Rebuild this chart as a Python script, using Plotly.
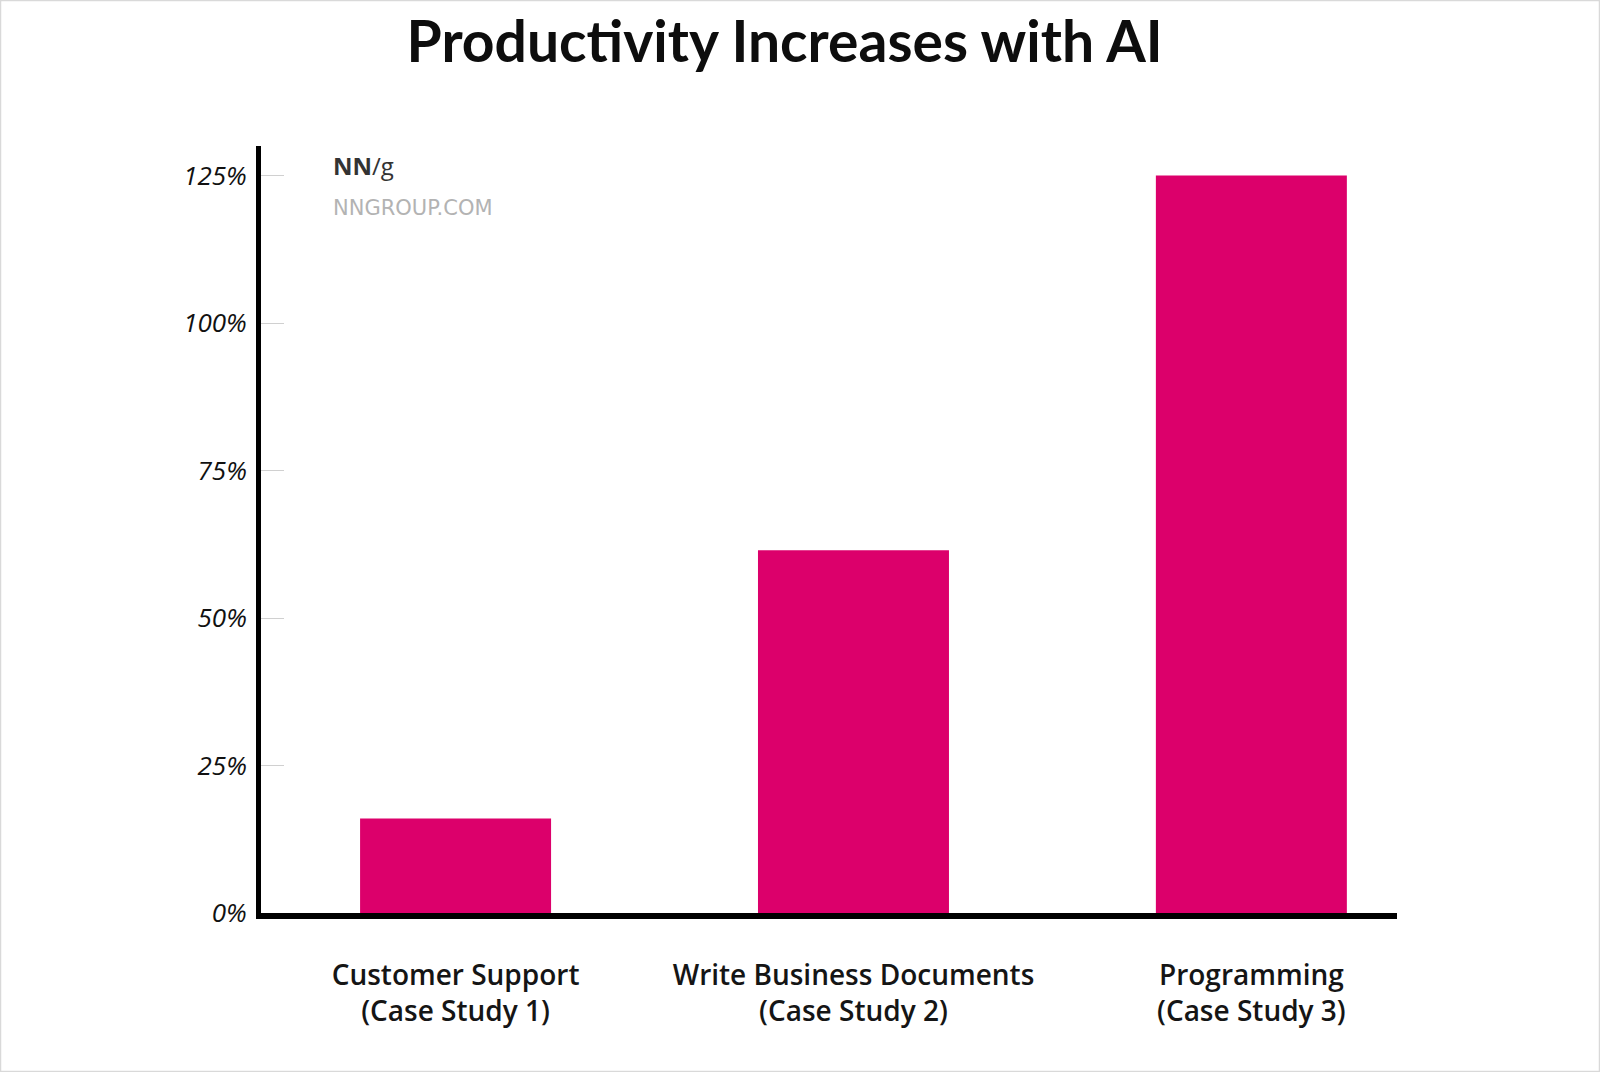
import plotly.graph_objects as go

# ---- data ----
categories = ["Customer Support<br>(Case Study 1)",
              "Write Business Documents<br>(Case Study 2)",
              "Programming<br>(Case Study 3)"]
productivity_gain = [16, 61.5, 125]
y_ticks = [0, 25, 50, 75, 100, 125]
y_tick_labels = ["0%", "25%", "50%", "75%", "100%", "125%"]
title_text = "Productivity Increases with AI"

W, H = 1600, 1072
L, R, T, B = 261, 203, 146, 159
pw, ph = W - L - R, H - T - B

BAR_COLOR = "#DC006B"
LABEL_FONT = "Open Sans, Lato, Roboto, sans-serif"

fig = go.Figure()
fig.add_trace(go.Bar(
    x=categories, y=productivity_gain,
    marker=dict(color=BAR_COLOR, line=dict(width=0)),
    width=0.48, hoverinfo="skip",
))

fig.update_layout(
    width=W, height=H, autosize=False,
    margin=dict(l=L, r=R, t=T, b=B, pad=0),
    paper_bgcolor="white", plot_bgcolor="white",
    showlegend=False,
    title=dict(text=f"<b>{title_text}</b>", x=784.6 / W, xanchor="center",
               y=1 - 42 / H, yanchor="middle",
               font=dict(family="Lato, Roboto, sans-serif",
                         size=57, color="#0d0d0d")),
    xaxis=dict(
        range=[-0.489, 2.366], showgrid=False, zeroline=False,
        showline=True, linecolor="black", linewidth=6,
        ticks="", ticklabelstandoff=32,
        tickfont=dict(family=LABEL_FONT, size=28, color="#151515", weight=600),
        fixedrange=True,
    ),
    yaxis=dict(
        range=[0, 130], showgrid=False, zeroline=False,
        showline=True, linecolor="black", linewidth=5,
        tickmode="array", tickvals=y_ticks, ticktext=y_tick_labels,
        ticks="inside", ticklen=23, tickwidth=1, tickcolor="#d0d0d0",
        ticklabelstandoff=4,
        tickfont=dict(family=LABEL_FONT, size=26, color="#111111", style="italic"),
        fixedrange=True,
    ),
)

# logo text
fig.add_annotation(xref="paper", yref="paper",
                   x=(331 - L) / pw, y=(H - B - 166) / ph,
                   xanchor="left", yanchor="middle", showarrow=False,
                   text="<b>NN</b>/g",
                   font=dict(family="Open Sans, sans-serif", size=24, color="#333333"))
fig.add_annotation(xref="paper", yref="paper",
                   x=(331 - L) / pw, y=(H - B - 208) / ph,
                   xanchor="left", yanchor="middle", showarrow=False,
                   text="NNGROUP.COM",
                   font=dict(family="DejaVu Sans, sans-serif", size=21, color="#b3b3b3"))

# thin page border
fig.add_shape(type="rect", xref="paper", yref="paper", layer="above",
              x0=(0.5 - L) / pw, x1=(W - 0.5 - L) / pw,
              y0=(H - B - (H - 0.5)) / ph, y1=(H - B - 0.5) / ph,
              line=dict(color="#d9d9d9", width=1.5), fillcolor="rgba(0,0,0,0)")

fig.write_html("out.html", config={"displayModeBar": False},
               post_script="document.body.style.margin='0';")
